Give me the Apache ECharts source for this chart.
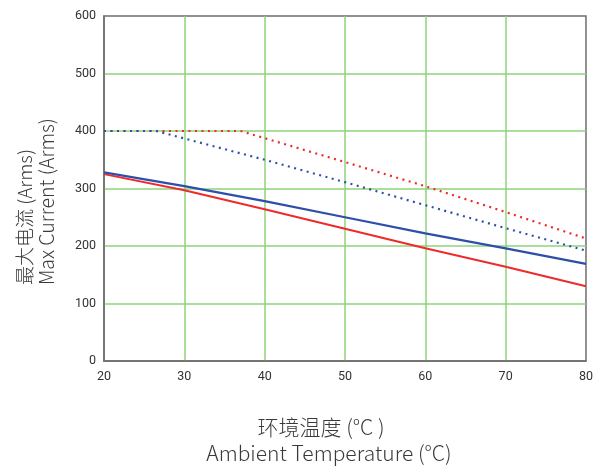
<!DOCTYPE html>
<html><head><meta charset="utf-8">
<script src="https://cdn.jsdelivr.net/npm/echarts@6/dist/echarts.min.js"></script>
<style>html,body{margin:0;padding:0;background:#fff}#c{width:596px;height:466px}</style>
</head><body><div id="c"></div>
<script>
const xTicks = [20, 30, 40, 50, 60, 70, 80];
const redSolid = [[20, 325], [30, 297], [40, 264], [50, 230], [60, 196], [70, 164], [80, 130]];
const blueSolid = [[20, 328], [30, 304], [40, 278], [50, 250], [60, 222], [70, 196], [80, 169]];
const redDotted = [[20, 400], [37, 400], [50, 346], [60, 304], [70, 259], [80, 213]];
const blueDotted = [[20, 400], [26.5, 400], [30, 387], [40, 350], [50, 311], [60, 271], [70, 231], [80, 192]];

const RED = '#ee2a2a', BLUE = '#2e4fa8';
const chart = echarts.init(document.getElementById('c'), null, {renderer: 'canvas'});
const fontF = '"Noto Sans CJK SC", "Noto Sans", sans-serif';
chart.setOption({
  animation: false,
  grid: {left: 104, right: 9, top: 16, bottom: 105, show: true, borderColor: '#6e6e6e', borderWidth: 1.5},
  xAxis: {
    type: 'value', min: 20, max: 80, interval: 10,
    axisLine: {show: true, lineStyle: {color: '#6e6e6e', width: 1.5}},
    axisTick: {show: false},
    axisLabel: {color: '#333', fontSize: 12.5, fontFamily: 'Roboto, sans-serif', margin: 9},
    splitLine: {show: true, showMinLine: false, showMaxLine: false, lineStyle: {color: '#8fd27a', width: 1.5}}
  },
  yAxis: {
    type: 'value', min: 0, max: 600, interval: 100,
    axisLine: {show: true, lineStyle: {color: '#6e6e6e', width: 1.5}},
    axisTick: {show: false},
    axisLabel: {color: '#333', fontSize: 12.5, fontFamily: 'Roboto, sans-serif', margin: 8},
    splitLine: {show: true, showMinLine: false, showMaxLine: false, lineStyle: {color: '#8fd27a', width: 1.5}}
  },
  graphic: [
    {type: 'text', x: 321, y: 427, style: {text: '环境温度 (°C )', font: '300 21px ' + fontF, fill: '#3a3a3a', textAlign: 'center', textVerticalAlign: 'middle'}},
    {type: 'text', x: 329, y: 453, style: {text: 'Ambient Temperature (°C)', font: '300 21px ' + fontF, fill: '#3a3a3a', textAlign: 'center', textVerticalAlign: 'middle'}},
    {type: 'text', x: 25, y: 285, rotation: Math.PI / 2, style: {text: '最大电流 (Arms)', font: '300 19px ' + fontF, fill: '#3a3a3a', textAlign: 'left', textVerticalAlign: 'middle'}},
    {type: 'text', x: 47, y: 285, rotation: Math.PI / 2, style: {text: 'Max Current (Arms)', font: '300 19.5px ' + fontF, fill: '#3a3a3a', textAlign: 'left', textVerticalAlign: 'middle'}}
  ],
  series: [
    {type: 'line', data: redDotted, showSymbol: false, lineStyle: {color: RED, width: 2.2, type: [2, 4.5]}, z: 3},
    {type: 'line', data: blueDotted, showSymbol: false, lineStyle: {color: BLUE, width: 2.2, type: [2, 4.5]}, z: 3},
    {type: 'line', data: redSolid, showSymbol: false, lineStyle: {color: RED, width: 2}, z: 4},
    {type: 'line', data: blueSolid, showSymbol: false, lineStyle: {color: BLUE, width: 2.2}, z: 5}
  ]
});
</script></body></html>
